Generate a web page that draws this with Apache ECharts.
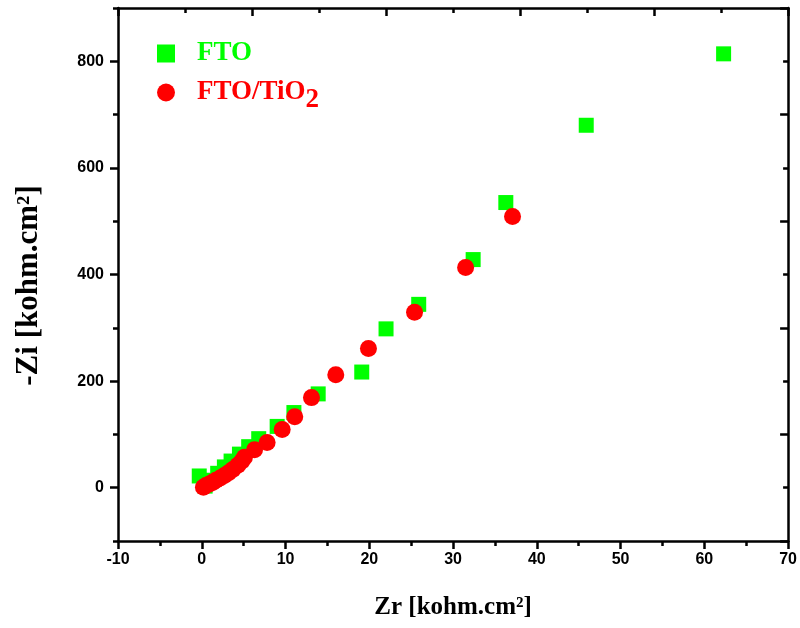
<!DOCTYPE html>
<html>
<head>
<meta charset="utf-8">
<script src="https://cdn.jsdelivr.net/npm/echarts@6/dist/echarts.min.js"></script>
<style>html,body{margin:0;padding:0;background:#fff;}#c{width:800px;height:628px;}</style>
</head>
<body>
<div id="c"></div>
<script>
// FTO series: [Zr, -Zi]
var ftoData = [
  [-0.3, 22], [0.4, 3], [1.2, 14], [1.9, 27], [2.7, 39], [3.5, 50], [4.5, 63],
  [5.6, 77], [6.8, 92], [9.0, 115], [11.0, 141], [13.9, 176], [19.1, 217],
  [22.0, 298], [25.9, 344], [32.4, 428], [36.3, 535], [45.9, 680], [62.3, 814]
];
// FTO/TiO2 series: [Zr, -Zi]
var tio2Data = [
  [0.2, 1], [0.5, 4], [0.9, 7], [1.3, 10], [1.7, 14], [2.2, 18], [2.7, 23],
  [3.2, 28], [3.7, 34], [4.3, 42], [4.8, 50], [5.1, 57], [6.3, 71], [7.8, 85],
  [9.6, 109], [11.1, 133], [13.1, 169], [16.0, 212], [19.9, 261],
  [25.4, 329], [31.5, 413], [37.1, 509]
];
var xTickLabels = [-10, 0, 10, 20, 30, 40, 50, 60, 70];
var yTickLabels = [0, 200, 400, 600, 800];
var seriesNames = ['FTO', 'FTO/TiO2'];

var black = '#000';
var tickFont = {fontFamily: '"Liberation Sans Narrow", "Liberation Sans", Arial, sans-serif', fontWeight: 'bold', fontSize: 16, color: black};
var titleFont = {fontFamily: '"Liberation Serif", "Times New Roman", serif', fontWeight: 'bold', fontSize: 25, color: black};
var yTitleFont = Object.assign({}, titleFont, {fontSize: 31, padding: [0, 22, 0, 0]});
var lineW = 2.5;
var legendFont = {fontSize: 27, fontWeight: 'bold', fontFamily: '"Liberation Serif", serif'};

var chart = echarts.init(document.getElementById('c'), null, {renderer: 'canvas'});
chart.setOption({
  animation: false,
  backgroundColor: '#fff',
  grid: {left: 118, right: 10, top: 8, bottom: 87, containLabel: false},
  legend: {
    orient: 'vertical', left: 152, top: 35, itemWidth: 18, itemHeight: 18, itemGap: 12,
    selectedMode: false,
    data: [
      {name: seriesNames[0], textStyle: {color: '#00ff00', rich: {a: Object.assign({color: '#00ff00', padding: [0,0,0,17]}, legendFont)}}},
      {name: seriesNames[1], textStyle: {color: '#ff0000', rich: {a: Object.assign({color: '#ff0000', padding: [0,0,0,17]}, legendFont), s: Object.assign({color: '#ff0000', padding: [16,0,0,0]}, legendFont)}}}
    ],
    formatter: function (n) {
      if (n === 'FTO/TiO2') return '{a|FTO/TiO}{s|2}';
      return '{a|' + n + '}';
    }
  },
  xAxis: [
    {
      type: 'value', position: 'bottom', min: -10, max: 70, interval: 10,
      axisLine: {show: true, onZero: false, lineStyle: {color: black, width: lineW}},
      axisTick: {show: true, inside: false, length: 8, lineStyle: {color: black, width: lineW}},
      minorTick: {show: true, splitNumber: 2, length: 5, lineStyle: {color: black, width: lineW}},
      splitLine: {show: false}, minorSplitLine: {show: false},
      axisLabel: Object.assign({margin: 11, customValues: xTickLabels}, tickFont),
      name: 'Zr [kohm.cm²]', nameLocation: 'middle', nameGap: 54, nameTextStyle: titleFont
    },
    {
      type: 'value', position: 'top', min: 0, max: 10, interval: 2,
      axisLine: {show: true, onZero: false, lineStyle: {color: black, width: lineW}},
      axisTick: {show: true, inside: true, length: 8, lineStyle: {color: black, width: lineW}},
      minorTick: {show: true, splitNumber: 2, length: 5, lineStyle: {color: black, width: lineW}},
      splitLine: {show: false}, axisLabel: {show: false}
    }
  ],
  yAxis: [
    {
      type: 'value', position: 'left', min: -100, max: 900, interval: 100,
      axisLine: {show: true, onZero: false, lineStyle: {color: black, width: lineW}},
      axisTick: {show: true, inside: false, length: 8, customValues: yTickLabels, lineStyle: {color: black, width: lineW}},
      splitLine: {show: false},
      axisLabel: Object.assign({margin: 14, customValues: yTickLabels}, tickFont),
      name: '-Zi [kohm.cm²]', nameLocation: 'middle', nameGap: 74, nameRotate: 90, nameTextStyle: yTitleFont
    },
    {
      type: 'value', position: 'left', offset: 0, min: -100, max: 900, interval: 100,
      axisLine: {show: false, onZero: false},
      axisTick: {show: true, inside: false, length: 5, lineStyle: {color: black, width: lineW}},
      splitLine: {show: false}, axisLabel: {show: false}
    },
    {
      type: 'value', position: 'right', min: 0, max: 10, interval: 2,
      axisLine: {show: true, onZero: false, lineStyle: {color: black, width: lineW}},
      axisTick: {show: true, inside: true, length: 8, lineStyle: {color: black, width: lineW}},
      minorTick: {show: true, splitNumber: 2, length: 5, lineStyle: {color: black, width: lineW}},
      splitLine: {show: false}, axisLabel: {show: false}
    }
  ],
  series: [
    {name: seriesNames[0], type: 'scatter', xAxisIndex: 0, yAxisIndex: 0, symbol: 'rect', symbolSize: 15,
     itemStyle: {color: '#00ff00', opacity: 1}, data: ftoData, z: 2},
    {name: seriesNames[1], type: 'scatter', xAxisIndex: 0, yAxisIndex: 0, symbol: 'circle', symbolSize: 17,
     itemStyle: {color: '#ff0000', opacity: 1}, data: tio2Data, z: 3}
  ]
});
</script>
</body>
</html>
